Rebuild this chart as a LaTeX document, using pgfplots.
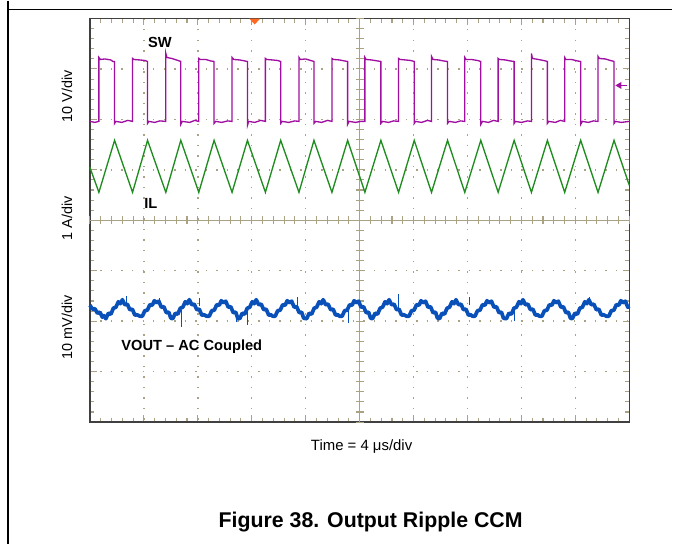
\documentclass[border=0pt]{standalone}
\usepackage{fontspec}
\setmainfont{Liberation Sans}
\usepackage{pgfplots}
\pgfplotsset{compat=1.18}
\definecolor{swc}{HTML}{A010A0}
\definecolor{ilc}{HTML}{1E8C1E}
\definecolor{voc}{HTML}{0A50B9}
\definecolor{gridc}{HTML}{A9A383}
\definecolor{trig}{HTML}{FF6A20}
\begin{document}
\begin{tikzpicture}
\begin{axis}[
 scale only axis, width=405pt, height=303pt,
 xmin=90, xmax=630, ymin=18, ymax=422, y dir=reverse,
 clip=false,
 xtick={90,144,198,252,306,360,414,468,522,576,630},
 ytick={18,68.5,119,169.5,220,270.5,321,371.5,422},
 xticklabels={}, yticklabels={},
 minor x tick num=4, minor y tick num=4,
 tick align=inside,
 major tick length=5pt, minor tick length=3pt,
 every tick/.style={gridc, line width=0.8pt},
 grid=major,
 major grid style={gridc, line width=1.1pt, dash pattern=on 1.1pt off 6.8pt},
 axis line style={draw=black!75, line width=0.9pt},
]
% page frame
\path (axis cs:0,0) rectangle (axis cs:673,544);
\draw[black, line width=1.1pt] (axis cs:8,9) -- (axis cs:673,9);
\draw[black, line width=0.8pt] (axis cs:8,0) -- (axis cs:8,544);
% crosshair
\draw[gridc, line width=0.8pt] (axis cs:360,18) -- (axis cs:360,422);
\draw[gridc, line width=0.8pt] (axis cs:90,220) -- (axis cs:630,220);
\pgfplotsinvokeforeach{0,...,50}{\draw[gridc, line width=0.8pt] (axis cs:{90+#1*10.8},216) -- (axis cs:{90+#1*10.8},224);}
\pgfplotsinvokeforeach{0,...,40}{\draw[gridc, line width=0.8pt] (axis cs:356,{18+#1*10.1}) -- (axis cs:364,{18+#1*10.1});}

% SW
\addplot[swc, line width=1pt] coordinates {
(90,121)(95,122)(99,121)
(99,57)(100.5,59)(105,58.5)(111,59.5)(113,61)(114.7,61)
(114.7,123)(116,121)(122,122)(128,120)(132.7,121)
(132.7,58)(134,59)(140,59.5)(145,60)(147.7,61)
(147.7,123)(149,121)(155,122)(160,120.5)(166,121)
(166,53)(167,57)(172,58)(178,60)(181,61)
(181,124)(182.5,121)(190,122)(195,120)(199,121)
(199,58)(200.5,59)(206,59)(211,60.5)(214.3,61)
(214.3,123)(216,121)(222,122)(228,120.5)(232.3,121)
(232.3,57)(234,59)(240,59.5)(245,60.5)(247.7,61)
(247.7,125)(249,121)(255,122)(261,120)(265.7,121)
(265.7,58)(267,59)(273,59.5)(278,60)(281,61)
(281,123)(282.5,121)(289,122)(295,120.5)(299.3,121)
(299.3,57)(300.5,59)(306,58.5)(311,60)(314.3,61)
(314.3,123)(316,121)(322,122)(328,120)(332.3,121)
(332.3,58)(334,59)(340,59.5)(345,60.5)(348,61)
(348,124)(349.5,121)(356,122)(361,121)(365.3,121)
(365.3,57)(366.5,59)(372,59.5)(378,60.5)(381.3,61)
(381.3,123)(383,121)(389,122)(394,120.5)(399,121)
(399,58)(400.5,59)(406,59.5)(411,60)(414.7,61)
(414.7,123)(416,121)(422,122)(428,120)(432,121)
(432,56)(433.5,59)(439,59.5)(444,60.5)(448,61)
(448,123)(449.5,121)(456,122)(461,120.5)(465.3,121)
(465.3,57)(466.5,59)(472,59)(478,60)(481.3,61)
(481.3,124)(483,121)(489,122)(494,120)(498.7,121)
(498.7,58)(500,59)(506,59.5)(511,60.5)(514.7,61)
(514.7,123)(516,121)(522,122)(528,120.5)(532,121)
(532,53)(533,58)(539,59)(544,60)(548,61)
(548,123)(549.5,121)(556,122)(561,120)(565.3,121)
(565.3,57)(566.5,59)(572,59)(578,60.5)(581.3,61)
(581.3,124)(583,121)(589,122)(594,120.5)(598.7,121)
(598.7,56)(600,58)(606,58.5)(611,60)(614.7,61)
(614.7,123)(616,121)(622,122)(630,121)
};

% IL
\addplot[ilc, line width=1pt] coordinates {
(90,167)(99,192)(114.7,140)(132.7,192)(147.7,140)(166,192)(181,140)
(199,192)(214.3,140)(232.3,192)(247.7,140)(265.7,192)(281,140)
(299.3,192)(314.3,140)(332.3,192)(348,140)(365.3,192)(381.3,140)
(399,192)(414.7,140)(432,192)(448,140)(465.3,192)(481.3,140)
(498.7,192)(514.7,140)(532,192)(548,140)(565.3,192)(581.3,140)
(598.7,192)(614.7,140)(630,185)
};

% VOUT
\addplot[voc, line width=2.8pt, line join=round] coordinates {
(90,305)(92.5,309)(95,308.5)(97.5,313)(100,312)(102.5,317)(104,315.5)
(106,318.5)(108.5,313)(111,314)(113.5,308)(116,307)(118.5,301.5)(120.5,303.5)(122.5,299.5)(125,304.5)(127.5,304)(130,309.5)(132.5,309)(135,315)(137,314.5)
(140,316)(142.5,316)(145,310.5)(147.5,310)(150,304.5)(152.5,305)(154.5,300.5)(156.5,302.5)(159,301)(161.5,307)(164,306.5)(166.5,312.5)(169,312)(171,318)
(173,318.5)(175.5,313)(178,314)(180.5,308)(183,307)(185.5,301.5)(187.5,303.5)(189.5,299.5)(192,304.5)(194.5,304)(197,309.5)(199.5,309)(202,315)(204,314.5)
(207,316)(209.5,316)(212,310.5)(214.5,310)(217,304.5)(219.5,305)(221.5,300.5)(223.5,302.5)(226,301)(228.5,307)(231,306.5)(233.5,312.5)(236,312)(238,318)
(240,318.5)(242.5,313)(245,314)(247.5,308)(250,307)(252.5,301.5)(254.5,303.5)(256.5,299.5)(259,304.5)(261.5,304)(264,309.5)(266.5,309)(269,315)(271,314.5)
(273,316)(275.5,316)(278,310.5)(280.5,310)(283,304.5)(285.5,305)(287.5,300.5)(289.5,302.5)(292,301)(294.5,307)(297,306.5)(299.5,312.5)(302,312)(304,318)
(307,318.5)(309.5,313)(312,314)(314.5,308)(317,307)(319.5,301.5)(321.5,303.5)(323.5,299.5)(326,304.5)(328.5,304)(331,309.5)(333.5,309)(336,315)(338,314.5)
(340,316)(342.5,316)(345,310.5)(347.5,310)(350,304.5)(352.5,305)(354.5,300.5)(356.5,302.5)(359,301)(361.5,307)(364,306.5)(366.5,312.5)(369,312)(371,318)
(373,318.5)(375.5,313)(378,314)(380.5,308)(383,307)(385.5,301.5)(387.5,303.5)(389.5,299.5)(392,304.5)(394.5,304)(397,309.5)(399.5,309)(402,315)(404,314.5)
(407,316)(409.5,316)(412,310.5)(414.5,310)(417,304.5)(419.5,305)(421.5,300.5)(423.5,302.5)(426,301)(428.5,307)(431,306.5)(433.5,312.5)(436,312)(438,318)
(440,318.5)(442.5,313)(445,314)(447.5,308)(450,307)(452.5,301.5)(454.5,303.5)(456.5,299.5)(459,304.5)(461.5,304)(464,309.5)(466.5,309)(469,315)(471,314.5)
(473,316)(475.5,316)(478,310.5)(480.5,310)(483,304.5)(485.5,305)(487.5,300.5)(489.5,302.5)(492,301)(494.5,307)(497,306.5)(499.5,312.5)(502,312)(504,318)
(507,318.5)(509.5,313)(512,314)(514.5,308)(517,307)(519.5,301.5)(521.5,303.5)(523.5,299.5)(526,304.5)(528.5,304)(531,309.5)(533.5,309)(536,315)(538,314.5)
(540,316)(542.5,316)(545,310.5)(547.5,310)(550,304.5)(552.5,305)(554.5,300.5)(556.5,302.5)(559,301)(561.5,307)(564,306.5)(566.5,312.5)(569,312)(571,318)
(573,318.5)(575.5,313)(578,314)(580.5,308)(583,307)(585.5,301.5)(587.5,303.5)(589.5,299.5)(592,304.5)(594.5,304)(597,309.5)(599.5,309)(602,315)(604,314.5)
(607,316)(609.5,316)(612,310.5)(614.5,310)(617,304.5)(619.5,305)(621.5,300.5)(623.5,302.5)(626,301)(628.5,307)(630,306)
};
\addplot[voc, line width=0.7pt, unbounded coords=jump] coordinates {
(127,303)(127,296)(127,nan)
(182,310)(182,327)(182,nan)
(200,306)(200,298)(200,nan)
(248,310)(248,325)(248,nan)
(298,306)(298,297)(298,nan)
(349,309)(349,323)(349,nan)
(399,310)(399,294)(399,nan)
(515,310)(515,321)(515,nan)
(470,305)(470,297)(470,nan)
(590,305)(590,297)(590,nan)
(237,312)(237,322)(237,nan)
(160,306)(160,298)
};

% markers
\fill[trig] (axis cs:249.5,18) -- (axis cs:260.5,18) -- (axis cs:255,24) -- cycle;
\draw[swc, line width=0.9pt] (axis cs:628,85) -- (axis cs:621,85);
\fill[swc] (axis cs:616,85) -- (axis cs:622,81.5) -- (axis cs:622,88.5) -- cycle;

% labels
\node[rotate=90, font=\fontsize{10.8}{12}\selectfont] at (axis cs:67,96) {10 V/div};
\node[rotate=90, font=\fontsize{10.8}{12}\selectfont] at (axis cs:67,218) {1 A/div};
\node[rotate=90, font=\fontsize{10.8}{12}\selectfont] at (axis cs:67,327) {10 mV/div};
\node[font=\bfseries\fontsize{11}{12}\selectfont] at (axis cs:160,42) {SW};
\node[font=\bfseries\fontsize{11}{12}\selectfont] at (axis cs:151,203) {IL};
\node[font=\bfseries\fontsize{11}{12}\selectfont] at (axis cs:192,347) {VOUT – AC Coupled};
\node[font=\fontsize{11.2}{13}\selectfont] at (axis cs:362,446) {Time = 4 μs/div};
\node[font=\bfseries\fontsize{16}{18}\selectfont] at (axis cs:371,522) {Figure 38. Output Ripple CCM};
\end{axis}
\end{tikzpicture}
\end{document}
